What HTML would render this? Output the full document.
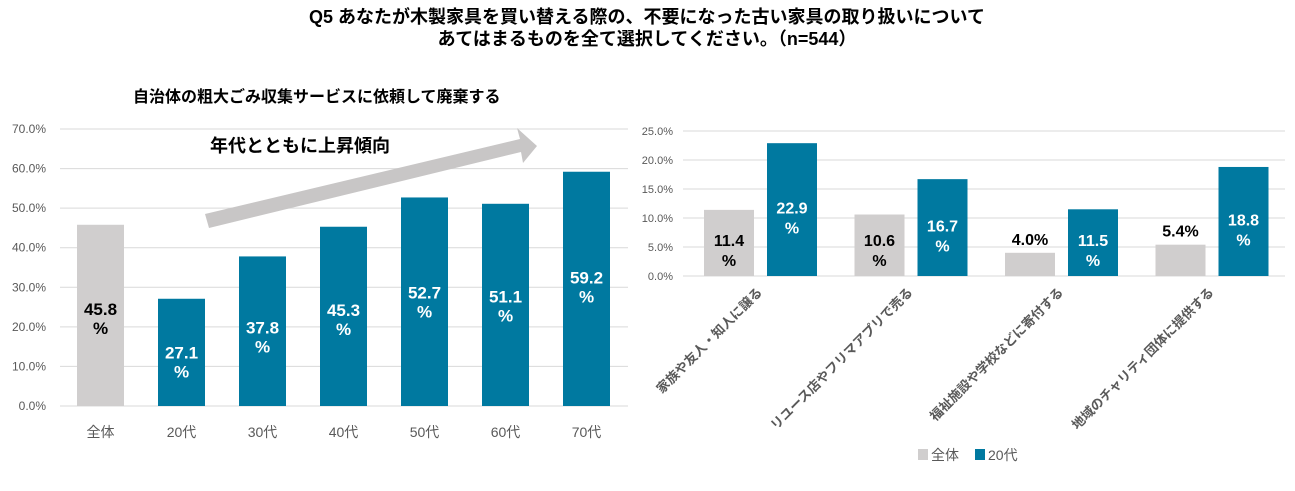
<!DOCTYPE html>
<html><head><meta charset="utf-8"><style>
body{margin:0;background:#fff;width:1295px;height:486px;overflow:hidden;font-family:"Liberation Sans","Noto Sans CJK JP",sans-serif;}
svg text{font-family:"Liberation Sans","Noto Sans CJK JP",sans-serif;}
</style></head><body>
<svg id="c" width="1295" height="486" xmlns="http://www.w3.org/2000/svg">
<text x="647" y="23" text-anchor="middle" font-size="18" font-weight="bold" fill="#000">Q5 あなたが木製家具を買い替える際の、不要になった古い家具の取り扱いについて</text>
<text x="647" y="45" text-anchor="middle" font-size="18" font-weight="bold" fill="#000">あてはまるものを全て選択してください。（n=544）</text>
<text x="133" y="102" font-size="16" font-weight="bold" fill="#000">自治体の粗大ごみ収集サービスに依頼して廃棄する</text>
<g id="L"></g>
<g id="R"></g>
</svg>
<script>
const leftCats=["全体","20代","30代","40代","50代","60代","70代"];
const leftVals=[45.8,27.1,37.8,45.3,52.7,51.1,59.2];
const leftTicks=[0,10,20,30,40,50,60,70];
const rightCats=["家族や友人・知人に譲る","リユース店やフリマアプリで売る","福祉施設や学校などに寄付する","地域のチャリティ団体に提供する"];
const rightAll=[11.4,10.6,4.0,5.4];
const right20=[22.9,16.7,11.5,18.8];
const rightTicks=[0,5,10,15,20,25];
const NS="http://www.w3.org/2000/svg";
const BLUE="#0079a0",GRAY="#d0cece";
function mk(p,t,a,txt){const e=document.createElementNS(NS,t);for(const k in a)e.setAttribute(k,a[k]);if(txt!==undefined)e.textContent=txt;p.appendChild(e);return e;}
// left
const L=document.getElementById('L');
const ly=v=>406-v*(406-129)/70;
const lx=i=>100.5+i*81;
leftTicks.forEach(t=>{
 const g=mk(L,'line',{x1:60,x2:628,y1:ly(t),y2:ly(t),stroke:'#d9d9d9','stroke-width':1});
 
 
 const tx=mk(L,'text',{x:46,y:ly(t)+4,'text-anchor':'end','font-size':12,fill:'#595959'},t.toFixed(1)+'%');
 
 
});
const ar=mk(L,'polygon',{points:'205,214 520,139 517,128 537,146 523,163 521,152 209,228',fill:'#c8c6c6'});


const at=mk(L,'text',{x:210,y:152,'font-size':18,'font-weight':'bold',fill:'#000'},'年代とともに上昇傾向');


leftVals.forEach((v,i)=>{
 const x=lx(i),w=47;
 const r=mk(L,'rect',{x:x-w/2,y:ly(v),width:w,height:ly(0)-ly(v),fill:i===0?GRAY:BLUE});
 
 
 const col=i===0?'#000':'#fff';
 const cy=(ly(v)+ly(0))/2+6-(v-27)*0.35;
 const t1=mk(L,'text',{x:x,y:cy,'text-anchor':'middle','font-size':17,'font-weight':'bold',fill:col},v.toFixed(1));
 
 
 const t2=mk(L,'text',{x:x,y:cy+19,'text-anchor':'middle','font-size':17,'font-weight':'bold',fill:col},'%');
 
 
 const c=mk(L,'text',{x:x,y:437,'text-anchor':'middle','font-size':14,fill:'#595959'},leftCats[i]);
 
 
});
// right
const R=document.getElementById('R');
const ry=v=>276-v*(276-131)/25;
const rx=i=>761+i*150.5;
rightTicks.forEach(t=>{
 const g=mk(R,'line',{x1:683,x2:1285,y1:ry(t),y2:ry(t),stroke:'#d9d9d9','stroke-width':1});
 
 
 const tx=mk(R,'text',{x:673,y:ry(t)+4,'text-anchor':'end','font-size':11,fill:'#595959'},t.toFixed(1)+'%');
 
 
});
rightCats.forEach((c,i)=>{
 const cx=rx(i),w=50;
 [[rightAll[i],GRAY,cx-57,'#000'],[right20[i],BLUE,cx+6,'#fff']].forEach(([v,col,x,tc],k)=>{
  const r=mk(R,'rect',{x:x,y:ry(v),width:w,height:ry(0)-ry(v),fill:col});
  
  
  const mx=x+w/2;
  if(k===0&&v<8){
   const t=mk(R,'text',{x:mx,y:ry(v)-8,'text-anchor':'middle','font-size':16,'font-weight':'bold',fill:'#000'},v.toFixed(1)+'%');
   
   
  } else {
   const cy=Math.min((ry(v)+ry(0))/2+4,ry(0)-30);
   const t1=mk(R,'text',{x:mx,y:cy,'text-anchor':'middle','font-size':16,'font-weight':'bold',fill:tc},v.toFixed(1));
   
   
   const t2=mk(R,'text',{x:mx,y:cy+20,'text-anchor':'middle','font-size':16,'font-weight':'bold',fill:tc},'%');
   
   
  }
 });
 const lab=mk(R,'text',{x:0,y:0,'text-anchor':'end','font-size':13,'font-weight':'bold',fill:'#595959',transform:`translate(${cx+2},${293}) rotate(-45)`},c);
 
 
});
const l1=mk(R,'rect',{x:918,y:449,width:10,height:11,fill:GRAY});


const l2=mk(R,'text',{x:931,y:460,'font-size':14,fill:'#595959'},'全体');


const l3=mk(R,'rect',{x:975,y:449,width:10,height:11,fill:BLUE});


const l4=mk(R,'text',{x:988,y:460,'font-size':14,fill:'#595959'},'20代');


</script>
</body></html>
